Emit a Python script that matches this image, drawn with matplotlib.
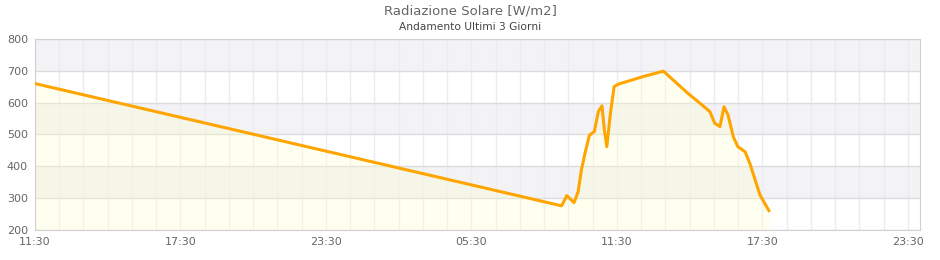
import numpy as np
import pandas as pd
import matplotlib
matplotlib.use("Agg")
import matplotlib.pyplot as plt
import matplotlib.dates as mdates

# DATA
TIMES = [
    "2024-06-10 11:30", "2024-06-11 09:13", "2024-06-11 09:26", "2024-06-11 09:44",
    "2024-06-11 09:54", "2024-06-11 10:02", "2024-06-11 10:11", "2024-06-11 10:22",
    "2024-06-11 10:34", "2024-06-11 10:44", "2024-06-11 10:53", "2024-06-11 10:59",
    "2024-06-11 11:05", "2024-06-11 11:14", "2024-06-11 11:23", "2024-06-11 11:33",
    "2024-06-11 12:35", "2024-06-11 13:25", "2024-06-11 13:58", "2024-06-11 14:26",
    "2024-06-11 14:51", "2024-06-11 15:20", "2024-06-11 15:32", "2024-06-11 15:45",
    "2024-06-11 15:55", "2024-06-11 16:05", "2024-06-11 16:18", "2024-06-11 16:29",
    "2024-06-11 16:47", "2024-06-11 16:59", "2024-06-11 17:24", "2024-06-11 17:46",
]
RADIATION = [
    660, 276, 308, 286,
    320, 388, 441, 498,
    509, 572, 590, 514,
    462, 567, 650, 658,
    682, 699, 661, 629,
    603, 572, 535, 525,
    587, 561, 493, 462,
    446, 409, 310, 261,
]
Y_MIN, Y_MAX = 200, 800
X_START = "2024-06-10 11:30"
X_END = "2024-06-12 00:00"

TITLE = "Radiazione Solare [W/m2]"
SUBTITLE = "Andamento Ultimi 3 Giorni"

times = pd.to_datetime(TIMES)
xmin, xmax = pd.Timestamp(X_START), pd.Timestamp(X_END)

fig = plt.figure(figsize=(9.4, 2.6), dpi=100)
ax = fig.add_axes([35 / 940, 1 - 230 / 260, 885 / 940, 191 / 260])

# alternating horizontal bands
for lo in range(Y_MIN, Y_MAX, 100):
    if (lo // 100) % 2 == 1:
        ax.axhspan(lo, lo + 100, color="#f3f3f5", zorder=0, lw=0)

ax.fill_between(times, RADIATION, Y_MIN, color="#ffffcc", alpha=0.3, zorder=1, lw=0)
ax.plot(times, RADIATION, color="#ffa500", lw=2.2, zorder=3)

ax.set_xlim(xmin, xmax)
ax.set_ylim(Y_MIN, Y_MAX)

ticks = pd.date_range(xmin, periods=7, freq="6h")
ax.set_xticks(ticks)
ax.xaxis.set_major_formatter(mdates.DateFormatter("%H:%M"))
ax.set_xticks(pd.date_range(xmin, xmax, freq="1h"), minor=True)
ax.set_yticks(range(Y_MIN, Y_MAX + 1, 100))

ax.grid(True, which="both", axis="x", color="#ebebf7", lw=1, zorder=0.5)
ax.grid(True, which="major", axis="y", color="#dcdcdc", lw=1, zorder=0.5)
ax.set_axisbelow(True)

ax.tick_params(which="both", length=0, labelsize=8, colors="#666666", pad=5)
for s in ax.spines.values():
    s.set_color("#d0d0d0")

fig.text(0.5, 1 - 11 / 260, TITLE, ha="center", va="center", fontsize=9.5, color="#666666")
fig.text(0.5, 1 - 27 / 260, SUBTITLE, ha="center", va="center", fontsize=7.7, color="#444444")

fig.savefig("out.png", dpi=100)
